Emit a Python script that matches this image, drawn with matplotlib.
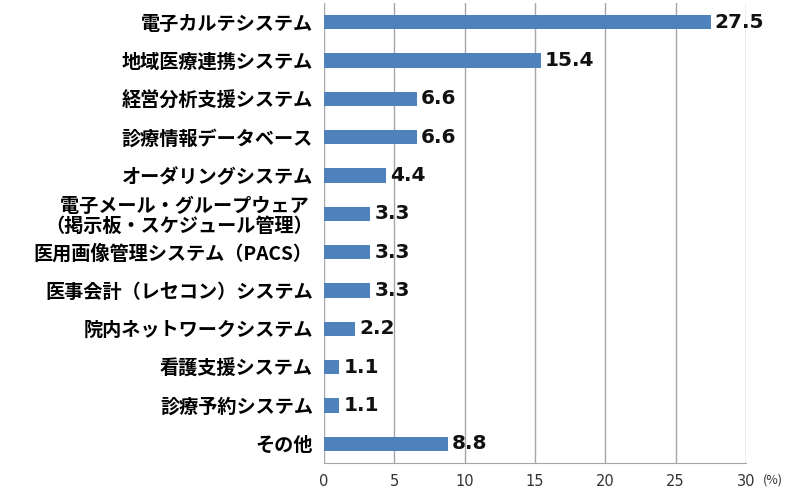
import matplotlib
matplotlib.use('Agg')
import matplotlib.pyplot as plt

plt.rcParams['font.family'] = ['Noto Sans CJK JP', 'DejaVu Sans']

#data
categories = ['電子カルテシステム', '地域医療連携システム', '経営分析支援システム',
              '診療情報データベース', 'オーダリングシステム',
              '電子メール・グループウェア \n（掲示板・スケジュール管理）',
              '医用画像管理システム（PACS）', '医事会計（レセコン）システム',
              '院内ネットワークシステム', '看護支援システム', '診療予約システム', 'その他']
values = [27.5, 15.4, 6.6, 6.6, 4.4, 3.3, 3.3, 3.3, 2.2, 1.1, 1.1, 8.8]
xticks = [0, 5, 10, 15, 20, 25, 30]

fig = plt.figure(figsize=(8, 4.93), dpi=100)
ax = fig.add_axes([0.405, 0.061, 0.5275, 0.933])

pos = list(range(len(categories)))
ax.barh(pos, values, height=0.37, color='#4F81BD', zorder=3)
for p, v in zip(pos, values):
    ax.text(v + 0.28, p, str(v), va='center', ha='left', fontsize=14.5,
            fontweight='bold', color='#111111', family='DejaVu Sans', zorder=4)

ax.set_ylim(len(categories) - 0.5, -0.5)
ax.set_xlim(0, 30)
ax.set_yticks(pos)
ax.set_yticklabels(categories, fontsize=13.8, fontweight='bold', linespacing=1.05)
ax.set_xticks(xticks)
ax.set_xticklabels([str(t) for t in xticks], fontsize=10.5, color='#333333',
                   family='DejaVu Sans')
ax.tick_params(axis='y', length=0, pad=8)
ax.tick_params(axis='x', length=0, pad=8)
ax.xaxis.grid(True, color='#a6a6a6', linewidth=1, zorder=0)
for s in ['top', 'right', 'left']:
    ax.spines[s].set_visible(False)
ax.spines['bottom'].set_color('#a6a6a6')
fig.text(0.953, 0.026, '(%)', fontsize=9, color='#333333', va='center', ha='left')

plt.savefig('out.png', dpi=100)
